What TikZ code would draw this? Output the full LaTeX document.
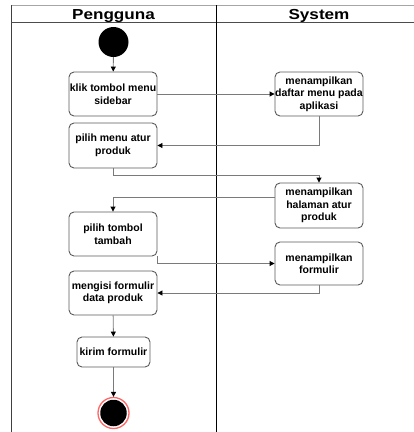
\documentclass[tikz,border=0pt]{standalone}
\usepackage{fontspec}
\setmainfont{Liberation Sans}
\usetikzlibrary{arrows.meta}
\definecolor{boxline}{HTML}{5A5A5A}
\definecolor{flowline}{HTML}{7A7A7A}
\definecolor{endring}{HTML}{FF6666}
\tikzset{
  act/.style={draw=boxline, line width=0.9pt, rounded corners=5pt, fill=white,
    minimum width=88pt, minimum height=44pt, align=center,
    inner sep=0pt, font=\bfseries\fontsize{10.5}{12.5}\selectfont},
  flow/.style={draw=flowline, line width=0.9pt,
    -{Triangle[length=5pt,width=5pt,fill=black,color=black]}},
  lanehead/.style={font=\bfseries\fontsize{14.5}{16}\selectfont, inner sep=0pt}
}
\begin{document}
\begin{tikzpicture}[x=1pt, y=-1pt]
\useasboundingbox (0,0) rectangle (414,432);
% swimlane frame
\draw[draw=black!35, line width=1pt] (11,5) -- (414,5);
\draw[draw=black!75, line width=0.9pt] (11,5) -- (11,432);
\draw[draw=black!70, line width=0.9pt] (11,22) -- (414,22);
\draw[draw=black, line width=0.7pt] (216,5) -- (216,432);
\node[lanehead, anchor=base] (lane1) at (113.5,19) {\scalebox{1.18}[1]{Pengguna}};
\node[lanehead, anchor=base] (lane2) at (319,19) {\scalebox{1.18}[1]{System}};
% start
\node[circle, fill=black, minimum size=30pt, inner sep=0pt] (start) at (113.5,42) {};
% activities
\node[act] (b1) at (113,94) {klik tombol menu\\sidebar};
\node[act] (b2) at (319,94) {menampilkan\\daftar menu pada\\aplikasi};
\node[act, minimum height=45pt] (b3) at (113,145.5) {pilih menu atur\\produk};
\node[act, minimum height=45pt] (b4) at (319,205.5) {menampilkan\\halaman atur\\produk};
\node[act] (b5) at (113,234) {pilih tombol\\tambah};
\node[act, minimum height=43pt] (b6) at (319,263.5) {menampilkan\\formulir};
\node[act] (b7) at (113,293) {mengisi formulir\\data produk};
\node[act, minimum width=73pt, minimum height=30pt] (b8) at (113.5,352) {kirim formulir};
% end
\node[circle, draw=endring, line width=1.3pt, fill=white, minimum size=31pt, inner sep=0pt] (finish) at (113.5,413) {};
\node[circle, fill=black, minimum size=26.5pt, inner sep=0pt] (finishdot) at (finish.center) {};
% flows
\draw[flow] (start) -- (b1);
\draw[flow] (b1) -- (b2);
\draw[flow] (b2.south) |- (b3.east);
\draw[flow] (b3.south) -- ++(0,7) -| (b4.north);
\draw[flow] ([yshift=8.5pt]b4.west) -| (b5.north);
\draw[flow] ([xshift=-0.5pt]b5.south east) |- (b6.west);
\draw[flow] (b6.south) |- (b7.east);
\draw[flow] (b7) -- (b8);
\draw[flow] (b8) -- (finish);
\end{tikzpicture}
\end{document}
